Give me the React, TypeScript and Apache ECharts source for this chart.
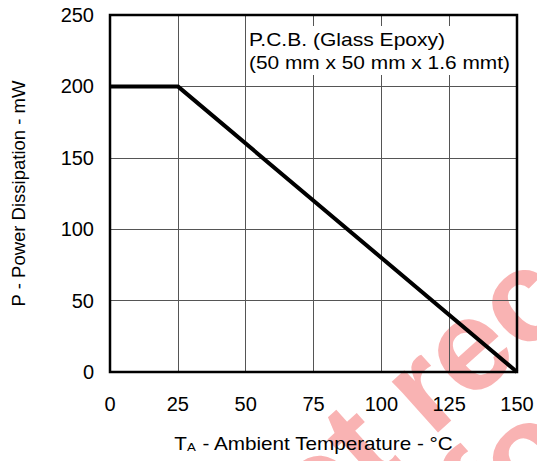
import React, { useEffect, useRef } from "react";
import * as echarts from "echarts";

const temps = [0, 25, 150];
const power = [200, 200, 0];
const xTicks = [0, 25, 50, 75, 100, 125, 150];
const yTicks = [0, 50, 100, 150, 200, 250];
const noteLines = ["P.C.B. (Glass Epoxy)", "(50 mm x 50 mm x 1.6 mmt)"];
const yTitle = "P - Power Dissipation - mW";
const watermark = ["Not recommended", "for new design"];

const FONT = "'Liberation Sans', Arial, sans-serif";

export default function App() {
  const ref = useRef<HTMLDivElement>(null);
  useEffect(() => {
    if (!ref.current) return;
    const chart = echarts.init(ref.current, null, { renderer: "svg" });
    const th = (42 * Math.PI) / 180;
    const dir = [Math.cos(th), -Math.sin(th)];
    const wmSize = 130;
    const o1 = [420 - 2.139 * wmSize * dir[0], 388 - 2.139 * wmSize * dir[1]];
    const o2 = [522 - 0.638 * wmSize * dir[0], 452 - 0.638 * wmSize * dir[1]];
    chart.setOption({
      animation: false,
      backgroundColor: "#fff",
      textStyle: { fontFamily: FONT },
      grid: {
        left: 110,
        right: 20,
        top: 15,
        bottom: 89,
        show: true,
        borderColor: "#000",
        borderWidth: 2.5,
        z: 3,
      },
      xAxis: {
        type: "value",
        min: xTicks[0],
        max: xTicks[xTicks.length - 1],
        interval: 25,
        axisLine: { show: false },
        axisTick: { show: false },
        axisLabel: { color: "#000", fontSize: 20, margin: 22, fontFamily: FONT },
        splitLine: { show: true, lineStyle: { color: "#555", width: 1 } },
        name: "",
      },
      yAxis: {
        type: "value",
        min: yTicks[0],
        max: yTicks[yTicks.length - 1],
        interval: 50,
        axisLine: { show: false },
        axisTick: { show: false },
        axisLabel: { color: "#000", fontSize: 20, margin: 16, fontFamily: FONT },
        splitLine: { show: true, lineStyle: { color: "#555", width: 1 } },
        name: yTitle,
        nameLocation: "middle",
        nameGap: 82,
        nameTextStyle: { color: "#000", fontSize: 18.5, fontFamily: FONT },
      },
      graphic: [
        {
          type: "text",
          x: o1[0],
          y: o1[1],
          rotation: th,
          z: -10,
          silent: true,
          style: {
            text: watermark[0],
            fontSize: wmSize,
            fontWeight: "bold",
            fontFamily: FONT,
            fill: "#f9b3b3",
            textAlign: "left",
            textVerticalAlign: "middle",
          },
        },
        {
          type: "text",
          x: o2[0],
          y: o2[1],
          rotation: th,
          z: -10,
          silent: true,
          style: {
            text: watermark[1],
            fontSize: wmSize,
            fontWeight: "bold",
            fontFamily: FONT,
            fill: "#f9b3b3",
            textAlign: "left",
            textVerticalAlign: "middle",
          },
        },
        {
          type: "rect",
          shape: { x: 247, y: 26, width: 269, height: 49 },
          style: { fill: "#fff" },
          z: 2,
        },
        {
          type: "text",
          x: 249,
          y: 40,
          z: 5,
          scaleX: 1.17,
          style: {
            text: noteLines[0],
            fontSize: 18,
            fontFamily: FONT,
            fill: "#000",
            textVerticalAlign: "middle",
          },
        },
        {
          type: "text",
          x: 249,
          y: 63,
          z: 5,
          scaleX: 1.16,
          style: {
            text: noteLines[1],
            fontSize: 18,
            fontFamily: FONT,
            fill: "#000",
            textVerticalAlign: "middle",
          },
        },
        {
          type: "text",
          x: 314,
          y: 444,
          z: 5,
          scaleX: 1.15,
          style: {
            text: "{a|T}{s|A}{a| - Ambient Temperature - °C}",
            fontFamily: FONT,
            textAlign: "center",
            textVerticalAlign: "middle",
            rich: {
              a: { fontSize: 18, fontFamily: FONT, fill: "#000", color: "#000" },
              s: { fontSize: 11.5, fontFamily: FONT, fill: "#000", color: "#000", padding: [6, 0, 0, 0] },
            },
          },
        },
      ],
      series: [
        {
          type: "line",
          data: temps.map((t, i) => [t, power[i]]),
          symbol: "none",
          lineStyle: { color: "#000", width: 4 },
          z: 4,
        },
      ],
    });
    return () => chart.dispose();
  }, []);
  return (
    <div
      ref={ref}
      style={{ position: "fixed", left: 0, top: 0, width: 537, height: 461 }}
    />
  );
}
